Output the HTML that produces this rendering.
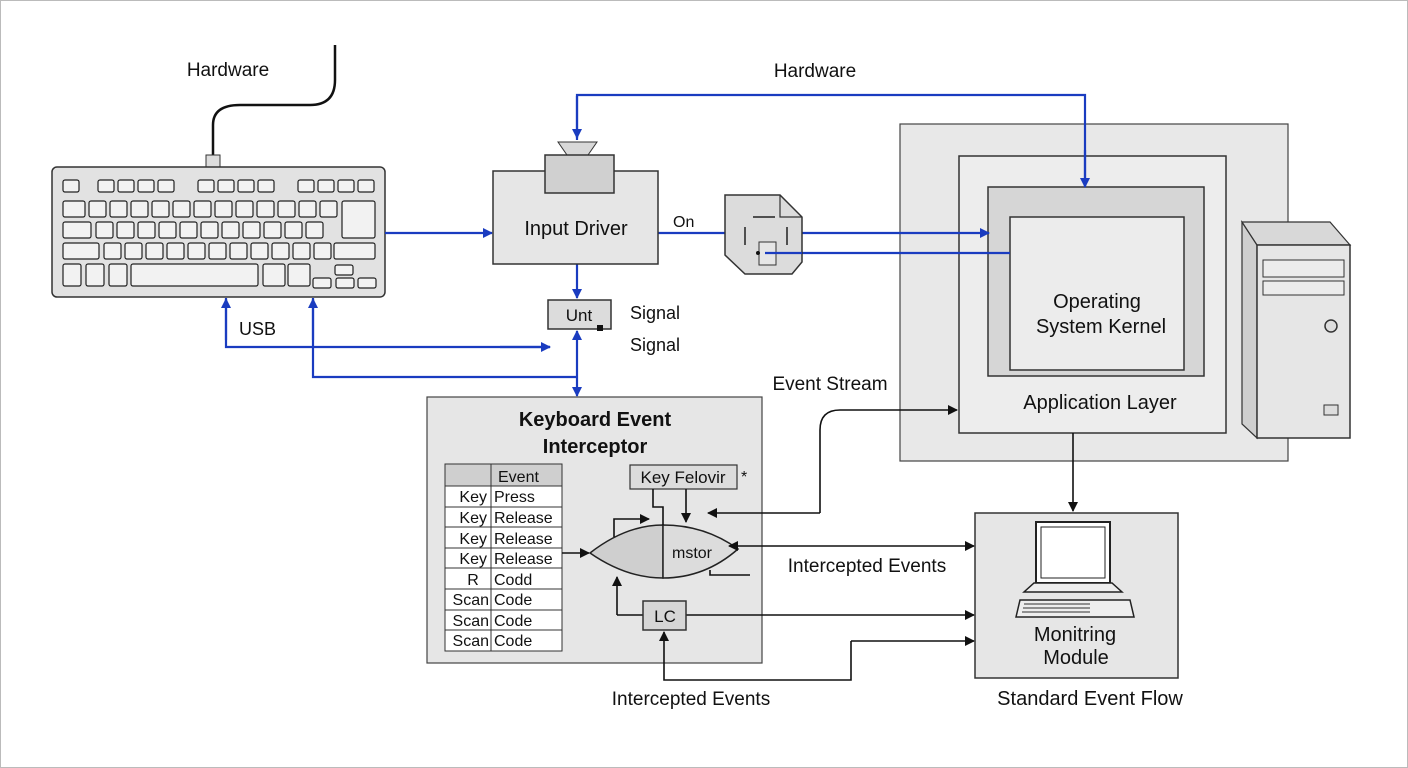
<!DOCTYPE html>
<html><head><meta charset="utf-8"><style>
body{margin:0;background:#fff}
svg{display:block}
text{font-family:"Liberation Sans",sans-serif;fill:#111}
</style></head><body>
<svg width="1408" height="768" viewBox="0 0 1408 768" xmlns="http://www.w3.org/2000/svg">
<defs>
<marker id="ab" markerWidth="10" markerHeight="10" refX="9" refY="5" orient="auto" markerUnits="userSpaceOnUse"><path d="M0,0L10,5L0,10z" fill="#1a3cc0"/></marker>
<marker id="ak" markerWidth="10" markerHeight="10" refX="9" refY="5" orient="auto" markerUnits="userSpaceOnUse"><path d="M0,0L10,5L0,10z" fill="#111"/></marker>
<marker id="aks" markerWidth="10" markerHeight="10" refX="1" refY="5" orient="auto" markerUnits="userSpaceOnUse"><path d="M10,0L0,5L10,10z" fill="#111"/></marker>
</defs>
<rect x="0.5" y="0.5" width="1407" height="767" fill="#fff" stroke="#bbb"/>

<!-- big system box -->
<rect x="900" y="124" width="388" height="337" fill="#e8e8e8" stroke="#444" stroke-width="1.2"/>
<rect x="959" y="156" width="267" height="277" fill="#ededed" stroke="#333" stroke-width="1.5"/>
<rect x="988" y="187" width="216" height="189" fill="#d6d6d6" stroke="#333" stroke-width="1.5"/>
<rect x="1010" y="217" width="174" height="153" fill="#ececec" stroke="#333" stroke-width="1.5"/>
<text x="1097" y="308" font-size="20" text-anchor="middle">Operating</text>
<text x="1101" y="333" font-size="20" text-anchor="middle">System Kernel</text>
<text x="1100" y="409" font-size="20" text-anchor="middle">Application Layer</text>

<!-- cable -->
<path d="M213,155 V125 Q213,105 240,105 H310 Q335,105 335,80 V45" fill="none" stroke="#111" stroke-width="2.5"/>
<rect x="206" y="155" width="14" height="12" fill="#ddd" stroke="#333"/>
<text x="228" y="76" font-size="19" text-anchor="middle">Hardware</text>

<!-- keyboard -->
<rect x="52" y="167" width="333" height="130" rx="5" fill="#e2e2e2" stroke="#333" stroke-width="1.5"/>
<g fill="#f2f2f2" stroke="#222" stroke-width="1.2">
<rect x="63" y="180" width="16" height="12" rx="2"/>
<rect x="98" y="180" width="16" height="12" rx="2"/><rect x="118" y="180" width="16" height="12" rx="2"/><rect x="138" y="180" width="16" height="12" rx="2"/><rect x="158" y="180" width="16" height="12" rx="2"/>
<rect x="198" y="180" width="16" height="12" rx="2"/><rect x="218" y="180" width="16" height="12" rx="2"/><rect x="238" y="180" width="16" height="12" rx="2"/><rect x="258" y="180" width="16" height="12" rx="2"/>
<rect x="298" y="180" width="16" height="12" rx="2"/><rect x="318" y="180" width="16" height="12" rx="2"/><rect x="338" y="180" width="16" height="12" rx="2"/><rect x="358" y="180" width="16" height="12" rx="2"/>
<rect x="63" y="201" width="22" height="16" rx="2"/>
<rect x="89" y="201" width="17" height="16" rx="2"/><rect x="110" y="201" width="17" height="16" rx="2"/><rect x="131" y="201" width="17" height="16" rx="2"/><rect x="152" y="201" width="17" height="16" rx="2"/><rect x="173" y="201" width="17" height="16" rx="2"/><rect x="194" y="201" width="17" height="16" rx="2"/><rect x="215" y="201" width="17" height="16" rx="2"/><rect x="236" y="201" width="17" height="16" rx="2"/><rect x="257" y="201" width="17" height="16" rx="2"/><rect x="278" y="201" width="17" height="16" rx="2"/><rect x="299" y="201" width="17" height="16" rx="2"/><rect x="320" y="201" width="17" height="16" rx="2"/>
<rect x="342" y="201" width="33" height="37" rx="2"/>
<rect x="63" y="222" width="28" height="16" rx="2"/>
<rect x="96" y="222" width="17" height="16" rx="2"/><rect x="117" y="222" width="17" height="16" rx="2"/><rect x="138" y="222" width="17" height="16" rx="2"/><rect x="159" y="222" width="17" height="16" rx="2"/><rect x="180" y="222" width="17" height="16" rx="2"/><rect x="201" y="222" width="17" height="16" rx="2"/><rect x="222" y="222" width="17" height="16" rx="2"/><rect x="243" y="222" width="17" height="16" rx="2"/><rect x="264" y="222" width="17" height="16" rx="2"/><rect x="285" y="222" width="17" height="16" rx="2"/><rect x="306" y="222" width="17" height="16" rx="2"/>
<rect x="63" y="243" width="36" height="16" rx="2"/>
<rect x="104" y="243" width="17" height="16" rx="2"/><rect x="125" y="243" width="17" height="16" rx="2"/><rect x="146" y="243" width="17" height="16" rx="2"/><rect x="167" y="243" width="17" height="16" rx="2"/><rect x="188" y="243" width="17" height="16" rx="2"/><rect x="209" y="243" width="17" height="16" rx="2"/><rect x="230" y="243" width="17" height="16" rx="2"/><rect x="251" y="243" width="17" height="16" rx="2"/><rect x="272" y="243" width="17" height="16" rx="2"/><rect x="293" y="243" width="17" height="16" rx="2"/><rect x="314" y="243" width="17" height="16" rx="2"/>
<rect x="334" y="243" width="41" height="16" rx="2"/>
<rect x="63" y="264" width="18" height="22" rx="2"/><rect x="86" y="264" width="18" height="22" rx="2"/><rect x="109" y="264" width="18" height="22" rx="2"/>
<rect x="131" y="264" width="127" height="22" rx="2"/>
<rect x="263" y="264" width="22" height="22" rx="2"/><rect x="288" y="264" width="22" height="22" rx="2"/>
<rect x="335" y="265" width="18" height="10" rx="2"/>
<rect x="313" y="278" width="18" height="10" rx="2"/><rect x="336" y="278" width="18" height="10" rx="2"/><rect x="358" y="278" width="18" height="10" rx="2"/>
</g>

<!-- blue connectors -->
<g fill="none" stroke="#1a3cc0" stroke-width="2.2">
<path d="M385,233 H492" marker-end="url(#ab)"/>
<path d="M577,140 V95 H1085 V186" />
<path d="M577,96 V138" marker-end="url(#ab)"/>
<path d="M1085,150 V187" marker-end="url(#ab)"/>
<path d="M658,233 H725"/>
<path d="M802,233 H989" marker-end="url(#ab)"/>
<path d="M765,253 H1010"/>
<path d="M577,264 V298" marker-end="url(#ab)"/>
<path d="M226,298 V347 H550" />
<path d="M226,340 V299" marker-end="url(#ab)"/>
<path d="M500,347 H550" marker-end="url(#ab)"/>
<path d="M313,298 V377 H577"/>
<path d="M313,340 V299" marker-end="url(#ab)"/>
<path d="M577,377 V331" marker-end="url(#ab)"/>
<path d="M577,377 V396" marker-end="url(#ab)"/>
</g>
<text x="239" y="335" font-size="18">USB</text>

<!-- input driver -->
<rect x="493" y="171" width="165" height="93" fill="#e6e6e6" stroke="#333" stroke-width="1.5"/>
<path d="M558,142 H597 L588,155 H567 Z" fill="#d8d8d8" stroke="#333"/>
<rect x="545" y="155" width="69" height="38" fill="#d0d0d0" stroke="#333" stroke-width="1.5"/>
<text x="576" y="235" font-size="20" text-anchor="middle">Input Driver</text>
<text x="673" y="227" font-size="16">On</text>
<text x="815" y="77" font-size="19" text-anchor="middle">Hardware</text>

<!-- doc shape -->
<path d="M725,195 H780 L802,217 V262 L792,274 H745 L725,255 Z" fill="#dcdcdc" stroke="#333" stroke-width="1.5"/>
<path d="M780,195 V217 H802" fill="none" stroke="#333" stroke-width="1.2"/>
<path d="M753,217 H775 M745,227 V245 M787,227 V245" stroke="#222" stroke-width="1.5"/>
<rect x="759" y="242" width="17" height="23" fill="#e6e6e6" stroke="#333"/>
<circle cx="758" cy="253" r="2" fill="#111"/>
<path d="M765,253 H802" stroke="#1a3cc0" stroke-width="2.2"/>

<!-- Unt -->
<rect x="548" y="300" width="63" height="29" fill="#dcdcdc" stroke="#333" stroke-width="1.5"/>
<rect x="597" y="325" width="6" height="6" fill="#111"/>
<text x="579" y="321" font-size="17" text-anchor="middle">Unt</text>
<text x="630" y="319" font-size="18">Signal</text>
<text x="630" y="351" font-size="18">Signal</text>

<!-- tower -->
<path d="M1242,222 L1257,245 V438 L1242,424 Z" fill="#cfcfcf" stroke="#333" stroke-width="1.2"/>
<path d="M1242,222 H1330 L1350,245 H1257 Z" fill="#d8d8d8" stroke="#333" stroke-width="1.2"/>
<rect x="1257" y="245" width="93" height="193" fill="#e6e6e6" stroke="#333" stroke-width="1.5"/>
<rect x="1263" y="260" width="81" height="17" fill="#ececec" stroke="#333"/>
<rect x="1263" y="281" width="81" height="14" fill="#ececec" stroke="#333"/>
<circle cx="1331" cy="326" r="6" fill="#ddd" stroke="#333" stroke-width="1.5"/>
<rect x="1324" y="405" width="14" height="10" fill="#ddd" stroke="#333"/>

<!-- interceptor -->
<rect x="427" y="397" width="335" height="266" fill="#e6e6e6" stroke="#444" stroke-width="1.2"/>
<text x="595" y="426" font-size="20" font-weight="bold" text-anchor="middle">Keyboard Event</text>
<text x="595" y="453" font-size="20" font-weight="bold" text-anchor="middle">Interceptor</text>
<rect x="445" y="464" width="117" height="22" fill="#cfcfcf" stroke="#333"/>
<rect x="445" y="486" width="117" height="165" fill="#fff" stroke="#333"/>
<g stroke="#333"><path d="M491,464 V651 M445,507 H562 M445,527 H562 M445,548 H562 M445,568 H562 M445,589 H562 M445,610 H562 M445,630 H562"/></g>
<g font-size="16">
<text x="498" y="482">Event</text>
<text x="487" y="502" text-anchor="end">Key</text><text x="494" y="502">Press</text>
<text x="487" y="523" text-anchor="end">Key</text><text x="494" y="523">Release</text>
<text x="487" y="544" text-anchor="end">Key</text><text x="494" y="544">Release</text>
<text x="487" y="564" text-anchor="end">Key</text><text x="494" y="564">Release</text>
<text x="473" y="585" text-anchor="middle">R</text><text x="494" y="585">Codd</text>
<text x="489" y="605" text-anchor="end">Scan</text><text x="494" y="605">Code</text>
<text x="489" y="626" text-anchor="end">Scan</text><text x="494" y="626">Code</text>
<text x="489" y="646" text-anchor="end">Scan</text><text x="494" y="646">Code</text>
</g>
<rect x="630" y="465" width="107" height="24" fill="#dcdcdc" stroke="#333" stroke-width="1.2"/>
<text x="683" y="483" font-size="17" text-anchor="middle">Key Felovir</text>
<text x="741" y="482" font-size="16">*</text>
<path d="M590,553 Q626,525 663,525 V578 Q626,578 590,553 Z" fill="#cfcfcf" stroke="#222" stroke-width="1.5"/>
<path d="M663,525 Q705,525 738,549 Q705,578 663,578 Z" fill="#dcdcdc" stroke="#222" stroke-width="1.5"/>
<text x="692" y="558" font-size="16" text-anchor="middle">mstor</text>
<g fill="none" stroke="#111" stroke-width="1.6">
<path d="M653,489 V507 H663 V525"/>
<path d="M686,489 V522" marker-end="url(#ak)"/>
<path d="M614,537 V519 H649" marker-end="url(#ak)"/>
<path d="M562,553 H589" marker-end="url(#ak)"/>
<path d="M617,615 V577" marker-end="url(#ak)"/>
<path d="M617,615 H643"/>
<path d="M686,615 H974" marker-end="url(#ak)"/>
<path d="M851,641 H974" marker-end="url(#ak)"/>
<path d="M851,641 V680 H664 V632" marker-end="url(#ak)"/>
<path d="M820,513 H708" marker-end="url(#ak)"/>
<path d="M820,513 V430 Q820,410 840,410 H957" marker-end="url(#ak)"/>
<path d="M729,546 H974" marker-start="url(#aks)" marker-end="url(#ak)"/>
<path d="M710,570 V575 H750"/>
<path d="M1073,433 V511" marker-end="url(#ak)"/>
</g>
<rect x="643" y="601" width="43" height="29" fill="#d6d6d6" stroke="#333" stroke-width="1.5"/>
<text x="665" y="622" font-size="17" text-anchor="middle">LC</text>
<text x="830" y="390" font-size="19" text-anchor="middle">Event Stream</text>
<text x="867" y="572" font-size="19" text-anchor="middle">Intercepted Events</text>
<text x="691" y="705" font-size="19" text-anchor="middle">Intercepted Events</text>

<!-- monitoring -->
<rect x="975" y="513" width="203" height="165" fill="#e6e6e6" stroke="#333" stroke-width="1.5"/>
<rect x="1036" y="522" width="74" height="61" fill="#fff" stroke="#222" stroke-width="2"/>
<rect x="1041" y="527" width="64" height="51" fill="#fff" stroke="#222" stroke-width="1"/>
<path d="M1034,583 H1112 L1122,592 H1024 Z" fill="#eee" stroke="#222" stroke-width="1.5"/>
<path d="M1016,617 L1020,600 H1130 L1134,617 Z" fill="#eee" stroke="#222" stroke-width="1.5"/>
<path d="M1024,604 H1090 M1023,608 H1090 M1022,612 H1090" stroke="#333" stroke-width="1"/>
<text x="1075" y="641" font-size="20" text-anchor="middle">Monitring</text>
<text x="1076" y="664" font-size="20" text-anchor="middle">Module</text>
<text x="1090" y="705" font-size="20" text-anchor="middle">Standard Event Flow</text>
</svg>
</body></html>
